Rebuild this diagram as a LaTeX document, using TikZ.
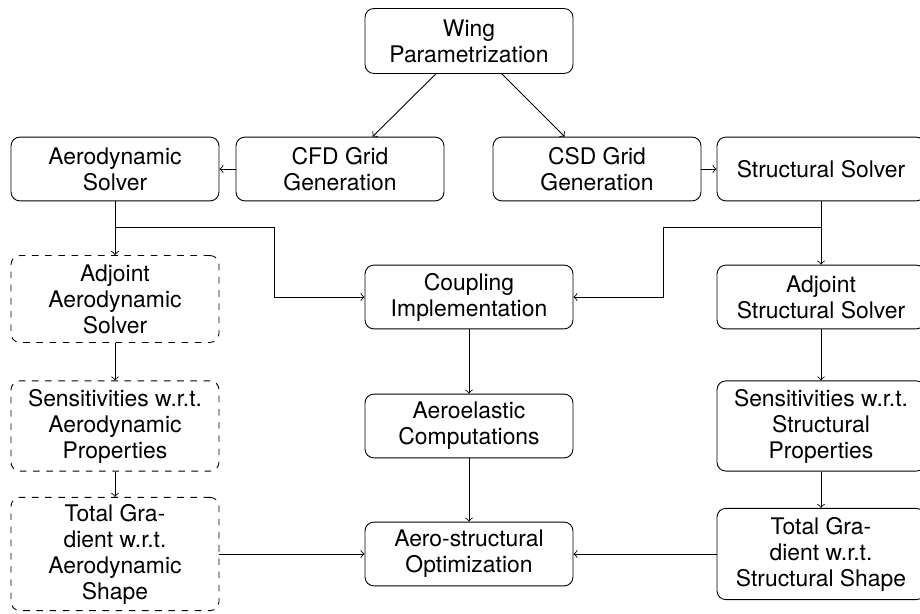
\documentclass[tikz,border=0pt]{standalone}
\usepackage{fontspec}
\setmainfont{TeX Gyre Heros}
\begin{document}
\begin{tikzpicture}[x=0.4545pt,y=-0.4545pt,
  box/.style={draw, rounded corners=4pt, align=center, minimum width=94.5pt,
    inner sep=2pt, font=\fontsize{10.4}{11.8}\selectfont},
  dbox/.style={box, dashed},
  arr/.style={->}]
\useasboundingbox (0,0) rectangle (920,614);
\node[box, minimum height=29.5pt] (wing) at (469,41) {Wing\\Parametrization};
\node[box, minimum height=29pt] (cfd) at (340,169) {CFD Grid\\Generation};
\node[box, minimum height=29pt] (csd) at (597,169) {CSD Grid\\Generation};
\node[box, minimum height=29pt] (aero) at (115,169) {Aerodynamic\\Solver};
\node[box, minimum height=29pt] (struct) at (821,169) {Structural Solver};
\node[dbox, minimum height=39.5pt] (adjaero) at (115,299) {Adjoint\\Aerodynamic\\Solver};
\node[box, minimum height=29pt] (coupling) at (469,297) {Coupling\\Implementation};
\node[box, minimum height=29pt] (adjstruct) at (821,297) {Adjoint\\Structural Solver};
\node[dbox, minimum height=41pt] (sensaero) at (115,426) {Sensitivities w.r.t.\\Aerodynamic\\Properties};
\node[box, minimum height=29pt] (aeroel) at (469,426) {Aeroelastic\\Computations};
\node[box, minimum height=41pt] (sensstruct) at (821,426) {Sensitivities w.r.t.\\Structural\\Properties};
\node[dbox, minimum height=51.5pt] (totaero) at (115,554) {Total Gra-\\dient w.r.t.\\Aerodynamic\\Shape};
\node[box, minimum height=29pt] (opt) at (469,554) {Aero-structural\\Optimization};
\node[box, minimum height=41.5pt] (totstruct) at (821,554) {Total Gra-\\dient w.r.t.\\Structural Shape};
\coordinate (la) at (115,227);
\coordinate (lb) at (274,227);
\coordinate (ra) at (821,227);
\coordinate (rb) at (663,227);
\draw[arr] (wing) -- (cfd);
\draw[arr] (wing) -- (csd);
\draw[arr] (cfd) -- (aero);
\draw[arr] (csd) -- (struct);
\draw[arr] (aero) -- (adjaero);
\draw[arr] (la) -- (lb) |- (coupling.west);
\draw[arr] (struct) -- (adjstruct);
\draw[arr] (ra) -- (rb) |- (coupling.east);
\draw[arr] (adjaero) -- (sensaero);
\draw[arr] (sensaero) -- (totaero);
\draw[arr] (totaero) -- (opt);
\draw[arr] (adjstruct) -- (sensstruct);
\draw[arr] (sensstruct) -- (totstruct);
\draw[arr] (totstruct) -- (opt);
\draw[arr] (coupling) -- (aeroel);
\draw[arr] (aeroel) -- (opt);
\end{tikzpicture}
\end{document}
